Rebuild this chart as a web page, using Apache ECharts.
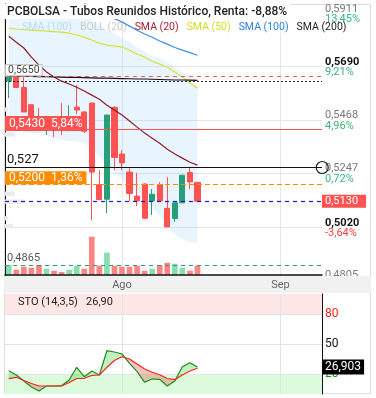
<!DOCTYPE html>
<html>
<head>
<meta charset="utf-8">
<script src="https://cdn.jsdelivr.net/npm/echarts@6/dist/echarts.min.js"></script>
<style>
  html, body { margin: 0; padding: 0; background: #fff; }
  #chart { width: 376px; height: 398px; }
</style>
</head>
<body>
<div id="chart"></div>
<script>
// sesiones (solo se rotulan los días 1 de cada mes)
const days = [
  '11 Jul', '12 Jul', '13 Jul', '14 Jul', '17 Jul', '18 Jul', '19 Jul', '20 Jul', '21 Jul', '24 Jul',
  '25 Jul', '26 Jul', '27 Jul', '28 Jul', '31 Jul',
  '1 Ago', '2 Ago', '3 Ago', '4 Ago', '7 Ago', '8 Ago', '9 Ago', '10 Ago', '11 Ago', '14 Ago',
  '16 Ago', '17 Ago', '18 Ago', '21 Ago', '22 Ago', '23 Ago', '24 Ago', '25 Ago', '28 Ago', '29 Ago', '30 Ago',
  '1 Sep', '4 Sep', '5 Sep', '6 Sep', '7 Sep', '8 Sep'
]

// [apertura, cierre, mínimo, máximo]
const ohlc = [
  [0.5630, 0.5646, 0.5559, 0.5650],
  [0.5646, 0.5603, 0.5600, 0.5650],
  [0.5603, 0.5501, 0.5500, 0.5646],
  [0.5531, 0.5446, 0.5434, 0.5533],
  [0.5479, 0.5438, 0.5425, 0.5517],
  [0.5430, 0.5462, 0.5405, 0.5475],
  [0.5446, 0.5425, 0.5396, 0.5467],
  [0.5479, 0.5434, 0.5405, 0.5538],
  [0.5434, 0.5479, 0.5421, 0.5529],
  [0.5521, 0.5509, 0.5492, 0.5613],
  [0.5501, 0.5421, 0.5413, 0.5504],
  [0.5538, 0.5251, 0.5051, 0.5540],
  [0.5198, 0.5137, 0.5134, 0.5259],
  [0.5138, 0.5488, 0.5080, 0.5490],
  [0.5520, 0.5312, 0.5259, 0.5525],
  [0.5326, 0.5289, 0.5259, 0.5342],
  [0.5251, 0.5162, 0.5130, 0.5267],
  [0.5151, 0.5131, 0.5109, 0.5248],
  [0.5201, 0.5059, 0.5055, 0.5205],
  [0.5131, 0.5159, 0.5072, 0.5180],
  [0.5199, 0.5131, 0.5128, 0.5209],
  [0.5100, 0.5023, 0.5022, 0.5230],
  [0.5058, 0.5123, 0.5044, 0.5126],
  [0.5123, 0.5238, 0.5122, 0.5240],
  [0.5249, 0.5210, 0.5179, 0.5273],
  [0.5208, 0.5130, 0.5130, 0.5209]
]

// volumen (miles de títulos) y si la sesión subió (1) o bajó (0)
const volume = [100, 53, 83, 73, 100, 63, 43, 30, 53, 90, 63, 383, 93, 223, 93, 83, 83, 93, 43, 63, 100, 123, 113, 73, 43, 93]
const volUp = [1, 0, 0, 0, 0, 1, 0, 0, 1, 1, 0, 0, 0, 1, 0, 0, 0, 0, 0, 1, 0, 0, 1, 1, 0, 0]

const sma20 = [0.5816, 0.5791, 0.5767, 0.5729, 0.5696, 0.5667, 0.5646, 0.5629, 0.5617, 0.5604, 0.5588, 0.5571, 0.5554,
  0.5529, 0.5509, 0.5488, 0.5463, 0.5438, 0.5413, 0.5392, 0.5371, 0.5346, 0.5326, 0.5309, 0.5292, 0.5280]
const sma50 = [0.5850, 0.5846, 0.5843, 0.5841, 0.5839, 0.5837, 0.5835, 0.5833, 0.5829, 0.5821, 0.5812, 0.5800, 0.5787,
  0.5779, 0.5775, 0.5771, 0.5758, 0.5742, 0.5729, 0.5712, 0.5700, 0.5687, 0.5667, 0.5646, 0.5621, 0.5600]
const sma100 = [0.6120, 0.6103, 0.6087, 0.6070, 0.6054, 0.6037, 0.6020, 0.6004, 0.5987, 0.5970, 0.5954, 0.5937, 0.5920,
  0.5904, 0.5889, 0.5875, 0.5858, 0.5841, 0.5825, 0.5812, 0.5796, 0.5783, 0.5769, 0.5758, 0.5748, 0.5737]
const sma200 = [0.5651, 0.5650, 0.5650, 0.5649, 0.5648, 0.5648, 0.5647, 0.5646, 0.5645, 0.5645, 0.5644, 0.5643, 0.5642,
  0.5642, 0.5641, 0.5640, 0.5639, 0.5638, 0.5638, 0.5637, 0.5636, 0.5635, 0.5634, 0.5634, 0.5633, 0.5632]
const bollUpper = [0.5946, 0.5944, 0.5941, 0.5937, 0.5933, 0.5929, 0.5925, 0.5920, 0.5916, 0.5908, 0.5900, 0.5883, 0.5862,
  0.5841, 0.5825, 0.5808, 0.5791, 0.5771, 0.5750, 0.5733, 0.5725, 0.5708, 0.5687, 0.5667, 0.5642, 0.5608]
const bollLower = [0.5425, 0.5421, 0.5417, 0.5413, 0.5409, 0.5400, 0.5392, 0.5384, 0.5380, 0.5379, 0.5371, 0.5350, 0.5317,
  0.5276, 0.5247, 0.5222, 0.5192, 0.5163, 0.5130, 0.5101, 0.5068, 0.5026, 0.4993, 0.4972, 0.4959, 0.4955]

// perfil de volumen por precio
const profPrice = [0.5511, 0.5407, 0.5161, 0.5128, 0.5059, 0.5026]
const profVol = [1, 3.2, 3.2, 6.3, 1, 2.5]
const profStep = 0.0018

// estocástico
const stoK = [23.3, 19, 13, 7, 3, 8, 8, 8.3, 14, 26.7, 17.3, 23, 19, 43.3, 42, 40, 30.7, 22.3, 11.7, 15, 14.7, 8, 13, 27.3, 31.3, 26.9]
const stoD = [15.3, 16.7, 13.5, 10.5, 8, 8, 8, 8, 11.5, 15.5, 15.7, 18.5, 19, 26.7, 33.5, 37.3, 35, 30, 25, 21.7, 19.3, 15.5, 14.3, 19, 23, 25.7]
const stoLast = 26.903
const stoLevels = [20, 50, 80]

// eje de precios
const yTicks = [0.5911, 0.5690, 0.5468, 0.5247, 0.5020, 0.4805]
const yTickPct = ['13,45%', '9,21%', '4,96%', '0,72%', '-3,64%', '-6,36%']
const yTickStrong = [0.5690, 0.5020]

// líneas de referencia
const priceHigh = 0.5650
const priceStart = 0.5630
const priceLevel = 0.5430
const levelPct = '5,84%'
const priceCursor = 0.527
const pricePrev = 0.5200
const prevPct = '1,36%'
const priceLast = 0.5130
const priceVolAvg = 0.4865

const titleText = 'PCBOLSA - Tubos Reunidos Histórico, Renta: -8,88%'
const stoTitle = 'STO (14,3,5)   26,90'

const fmt = (v, d) => v.toFixed(d).replace('.', ',')
const monthStarts = days.filter(d => d.startsWith('1 '))

const RED = '#ff5252'
const GREEN = '#26a07a'

function renderProfile (params, api) {
  const tl = api.coord([0, api.value(1) + profStep / 2])
  const br = api.coord([api.value(0), api.value(1) - profStep / 2])
  return {
    type: 'rect',
    shape: { x: tl[0], y: tl[1], width: br[0] - tl[0], height: br[1] - tl[1] },
    style: { fill: '#ebebeb' }
  }
}

function renderStoFill (params, api) {
  const i = api.value(0)
  const k0 = api.value(1); const d0 = api.value(2); const k1 = api.value(3); const d1 = api.value(4)
  const a = api.coord([i, k0]); const b = api.coord([i + 1, k1])
  const c = api.coord([i, d0]); const d = api.coord([i + 1, d1])
  const up = 'rgba(70,215,70,0.35)'
  const dn = 'rgba(215,90,70,0.35)'
  const poly = (pts, fill) => ({ type: 'polygon', shape: { points: pts }, style: { fill: fill } })
  const s0 = k0 - d0; const s1 = k1 - d1
  if (s0 * s1 >= 0) {
    return poly([a, b, d, c], (s0 + s1) >= 0 ? up : dn)
  }
  const t = s0 / (s0 - s1)
  const m = [a[0] + (b[0] - a[0]) * t, a[1] + (b[1] - a[1]) * t]
  return {
    type: 'group',
    children: [poly([a, m, c], s0 > 0 ? up : dn), poly([m, b, d], s1 > 0 ? up : dn)]
  }
}

const stoFillData = stoK.slice(0, -1).map((k, i) => [i, k, stoD[i], stoK[i + 1], stoD[i + 1]])

const chart = echarts.init(document.getElementById('chart'))
chart.setOption({
  animation: false,
  textStyle: { fontFamily: 'Roboto, sans-serif' },
  title: [
    {
      text: titleText, left: 4, top: 4, padding: [1, 3], backgroundColor: '#fff',
      textStyle: { fontSize: 12, fontWeight: 500, color: '#222', lineHeight: 13 }
    },
    {
      text: stoTitle, left: 18, top: 297, padding: 0,
      textStyle: { fontSize: 11, fontWeight: 'normal', color: '#222' }
    }
  ],
  legend: {
    left: 17, top: 22, icon: 'none', itemWidth: 0, itemHeight: 0, itemGap: 3, selectedMode: false,
    padding: 0,
    textStyle: { fontSize: 10.5 },
    formatter: n => (n === 'bollBase' ? 'SMA (100)' : n),
    data: [
      { name: 'bollBase', textStyle: { color: '#b8dcf3' } },
      { name: 'BOLL (20)', textStyle: { color: '#c9c9c9' } },
      { name: 'SMA (20)', textStyle: { color: '#a31d31' } },
      { name: 'SMA (50)', textStyle: { color: '#d3de2b' } },
      { name: 'SMA (100)', textStyle: { color: '#2f82e0' } },
      { name: 'SMA (200)', textStyle: { color: '#222' } }
    ]
  },
  graphic: [
    { type: 'rect', silent: true, z: 5, shape: { x: 4, y: 276, width: 367, height: 17 }, style: { fill: '#f1f1f1' } },
    { type: 'rect', silent: true, z: 0, shape: { x: 4.5, y: 4.5, width: 366, height: 389 }, style: { fill: 'none', stroke: '#dddddd' } }
  ],
  grid: [
    { left: 5, top: 4, width: 317, height: 278.9 },
    { left: 5, top: 235, width: 317, height: 40 },
    { left: 5, top: 294, width: 317, height: 100 }
  ],
  xAxis: [
    { type: 'category', gridIndex: 0, data: days, show: false },
    {
      type: 'category', gridIndex: 1, data: days, z: 10,
      axisLine: { show: true, lineStyle: { color: '#111', width: 1.5 } },
      axisTick: { show: false },
      splitLine: { show: false },
      axisLabel: {
        margin: 5, fontSize: 11, color: '#666',
        interval: (i, v) => v.startsWith('1 '),
        formatter: v => v.split(' ')[1]
      }
    },
    { type: 'category', gridIndex: 2, data: days, show: false },
    { type: 'value', gridIndex: 0, min: 0, max: 100, show: false }
  ],
  yAxis: [
    {
      type: 'value', gridIndex: 0, position: 'right', min: 0.4790, max: 0.5950, scale: true,
      axisLine: { show: true, lineStyle: { color: '#111' } },
      axisTick: { show: false },
      splitLine: { show: false },
      axisLabel: {
        margin: 3, customValues: yTicks,
        formatter: v => {
          const i = yTicks.findIndex(t => Math.abs(t - v) < 1e-7)
          const strong = yTickStrong.some(t => Math.abs(t - v) < 1e-7)
          const pct = yTickPct[i] || ''
          return `{${strong ? 'pb' : 'p'}|${fmt(v, 4)}}\n{${pct.startsWith('-') ? 'dn' : 'up'}|${pct}}`
        },
        rich: {
          p: { color: '#777', fontSize: 11, lineHeight: 12 },
          pb: { color: '#111', fontSize: 11, lineHeight: 12, fontWeight: 'bold' },
          up: { color: '#3bb37a', fontSize: 11, lineHeight: 9 },
          dn: { color: '#ff4040', fontSize: 11, lineHeight: 9 }
        }
      }
    },
    { type: 'value', gridIndex: 1, min: 0, max: 400, show: false },
    {
      type: 'value', gridIndex: 2, position: 'right', min: 0, max: 100,
      axisLine: { show: true, lineStyle: { color: '#111' } },
      axisTick: { show: false },
      splitLine: { show: false },
      axisLabel: {
        margin: 3, customValues: stoLevels, fontSize: 12,
        formatter: v => (v >= 80 ? `{r|${v}}` : v <= 20 ? `{g|${v}}` : `{k|${v}}`),
        rich: {
          r: { color: '#ff1a1a', fontSize: 12 },
          g: { color: '#1c9a1c', fontSize: 12 },
          k: { color: '#111', fontSize: 12 }
        }
      }
    }
  ],
  series: [
    {
      name: 'bollBase', type: 'line', xAxisIndex: 0, yAxisIndex: 0, stack: 'boll', z: 1,
      data: bollLower, showSymbol: false, lineStyle: { opacity: 0 }, silent: true,
      markLine: {
        silent: true, symbol: ['none', 'none'], z: 1, precision: 4, label: { show: false },
        lineStyle: { color: '#e6e6e6', type: 'solid', width: 1 },
        data: yTicks.slice(1, -1).map(t => ({ yAxis: t })).concat(monthStarts.map(d => ({ xAxis: d })))
      }
    },
    {
      name: 'BOLL (20)', type: 'line', xAxisIndex: 0, yAxisIndex: 0, stack: 'boll', z: 1,
      data: bollUpper.map((u, i) => u - bollLower[i]), showSymbol: false, silent: true,
      lineStyle: { opacity: 0 }, areaStyle: { color: 'rgba(144,202,249,0.28)' }
    },
    {
      name: 'perfil', type: 'custom', xAxisIndex: 3, yAxisIndex: 0, z: 1, silent: true,
      renderItem: renderProfile,
      encode: { x: 0, y: 1 },
      data: profVol.map((v, i) => [v, profPrice[i]])
    },
    {
      name: 'PCBOLSA', type: 'candlestick', xAxisIndex: 0, yAxisIndex: 0, z: 3,
      barWidth: '75%',
      itemStyle: { color: GREEN, color0: RED, borderColor: GREEN, borderColor0: RED, borderWidth: 1 },
      data: ohlc,
      markPoint: {
        silent: true,
        data: [{
          coord: [days[days.length - 1], priceCursor], symbol: 'circle', symbolSize: 12, symbolOffset: [4, 0],
          itemStyle: { color: 'rgba(0,0,0,0)', borderColor: '#222', borderWidth: 1.2 }, label: { show: false }
        }]
      },
      markLine: {
        silent: true, symbol: ['none', 'none'], precision: 4,
        data: [
          {
            yAxis: priceHigh, lineStyle: { color: RED, type: [4, 4], width: 1 },
            label: {
              show: true, position: 'insideStartTop', distance: [1, 1], formatter: fmt(priceHigh, 4),
              color: '#444', fontSize: 10.5, backgroundColor: '#fff', borderColor: '#bbb', borderWidth: 1, padding: [0, 2], lineHeight: 10
            }
          },
          { yAxis: priceStart, lineStyle: { color: '#222', type: [2, 2], width: 1 }, label: { show: false } },
          {
            yAxis: priceLevel, lineStyle: { color: RED, type: 'solid', width: 1 },
            label: {
              show: true, position: 'insideStartTop', distance: [0, -2], formatter: fmt(priceLevel, 4) + '  ' + levelPct,
              color: '#fff', fontSize: 12, backgroundColor: RED, padding: [2, 4], lineHeight: 11
            }
          },
          {
            yAxis: priceCursor, lineStyle: { color: '#111', type: 'solid', width: 1.2 },
            label: { show: true, position: 'insideStartTop', distance: [2, 1], formatter: fmt(priceCursor, 3), color: '#111', fontSize: 13 }
          },
          {
            yAxis: pricePrev, lineStyle: { color: '#ff8c00', type: [5, 3], width: 1.2 },
            label: {
              show: true, position: 'insideStartTop', distance: [0, 0], formatter: fmt(pricePrev, 4) + '  ' + prevPct,
              color: '#fff', fontSize: 12, backgroundColor: '#ff8c00', padding: [1, 4], lineHeight: 11
            }
          },
          {
            yAxis: priceLast, lineStyle: { color: '#1a1acc', type: [4, 4], width: 1.2 },
            label: {
              show: true, position: 'end', distance: 0, formatter: fmt(priceLast, 4),
              color: '#fff', fontSize: 11, backgroundColor: RED, padding: [1, 8, 1, 3], lineHeight: 11
            }
          },
          {
            yAxis: priceVolAvg, lineStyle: { color: GREEN, type: [4, 4], width: 1 },
            label: { show: true, position: 'insideStartTop', distance: [2, 1], formatter: fmt(priceVolAvg, 4), color: '#555', fontSize: 11 }
          }
        ]
      }
    },
    { name: 'SMA (20)', type: 'line', xAxisIndex: 0, yAxisIndex: 0, z: 4, data: sma20, showSymbol: false, silent: true, lineStyle: { color: '#8e1b2c', width: 1.2 }, itemStyle: { color: '#8e1b2c' } },
    { name: 'SMA (50)', type: 'line', xAxisIndex: 0, yAxisIndex: 0, z: 4, data: sma50, showSymbol: false, silent: true, lineStyle: { color: '#d6e03a', width: 1.2 }, itemStyle: { color: '#d6e03a' } },
    { name: 'SMA (100)', type: 'line', xAxisIndex: 0, yAxisIndex: 0, z: 4, data: sma100, showSymbol: false, silent: true, lineStyle: { color: '#3a8ee6', width: 1.2 }, itemStyle: { color: '#3a8ee6' } },
    { name: 'SMA (200)', type: 'line', xAxisIndex: 0, yAxisIndex: 0, z: 4, data: sma200, showSymbol: false, silent: true, lineStyle: { color: '#111', width: 1.2 }, itemStyle: { color: '#111' } },
    {
      name: 'Volumen', type: 'bar', xAxisIndex: 1, yAxisIndex: 1, barWidth: '75%', silent: true,
      data: volume.map((v, i) => ({ value: v, itemStyle: { color: volUp[i] ? '#86dfae' : '#ff8585' } }))
    },
    {
      name: 'stoFill', type: 'custom', xAxisIndex: 2, yAxisIndex: 2, z: 2, silent: true,
      renderItem: renderStoFill,
      encode: { x: 0, y: [1, 2, 3, 4] },
      data: stoFillData
    },
    {
      name: '%K', type: 'line', xAxisIndex: 2, yAxisIndex: 2, z: 3, data: stoK, showSymbol: false, silent: true,
      lineStyle: { color: '#1e8c1e', width: 1.2 }, itemStyle: { color: '#1e8c1e' },
      markArea: {
        silent: true,
        data: [
          [{ yAxis: 80, itemStyle: { color: '#fde6e6' } }, { yAxis: 100 }],
          [{ yAxis: 0, itemStyle: { color: '#dcfadc' } }, { yAxis: 20 }]
        ]
      },
      markLine: {
        silent: true, symbol: ['none', 'none'], precision: 3,
        data: [{
          yAxis: stoLast, lineStyle: { color: 'rgba(0,0,0,0)', width: 1 },
          label: {
            show: true, position: 'end', distance: 0, formatter: fmt(stoLast, 3),
            color: '#fff', fontSize: 12, backgroundColor: '#000', padding: [2, 3], lineHeight: 11
          }
        }]
      }
    },
    {
      name: '%D', type: 'line', xAxisIndex: 2, yAxisIndex: 2, z: 3, data: stoD, showSymbol: false, silent: true,
      lineStyle: { color: '#ff2020', width: 1.2 }, itemStyle: { color: '#ff2020' },
      markLine: {
        silent: true, symbol: ['none', 'none'], z: 1, label: { show: false },
        lineStyle: { color: '#e3e3e3', type: 'solid', width: 1 },
        data: stoLevels.map(l => ({ yAxis: l })).concat(monthStarts.map(d => ({ xAxis: d })))
      }
    }
  ]
})
</script>
</body>
</html>
